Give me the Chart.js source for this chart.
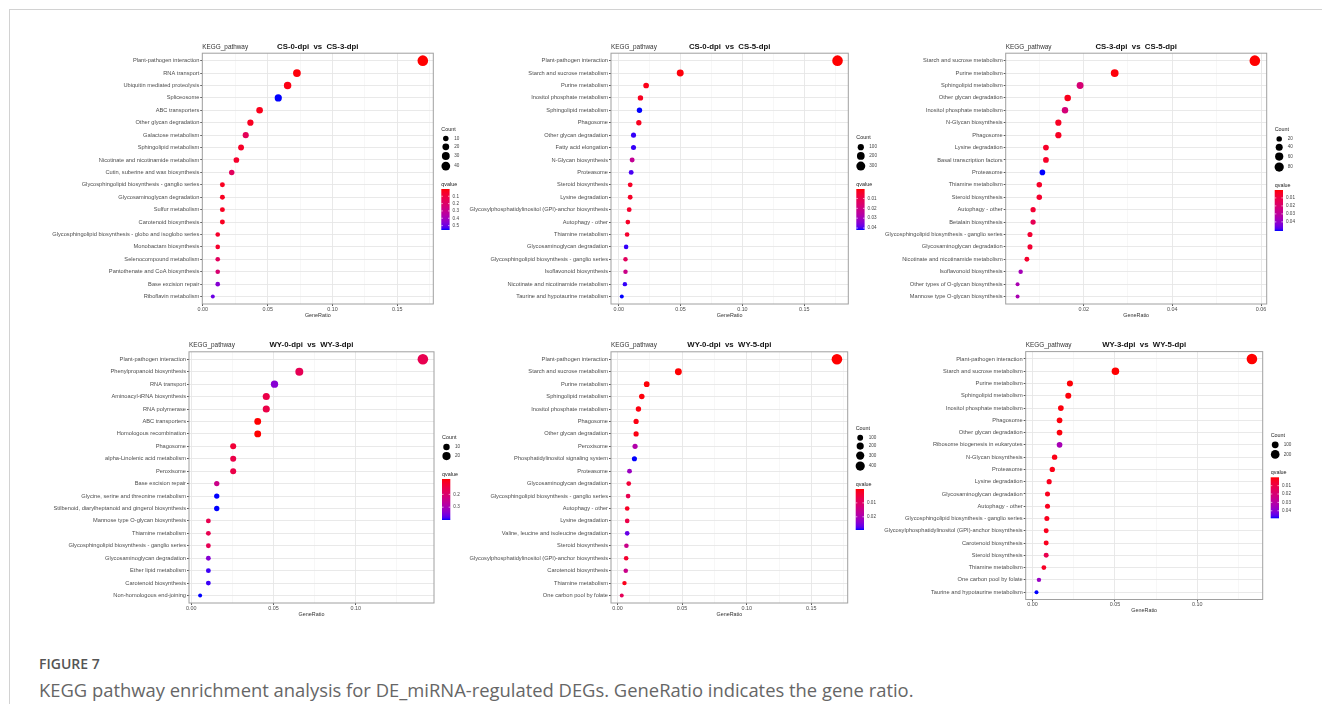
<!DOCTYPE html>
<html>
<head>
<meta charset="utf-8">
<script src="https://cdn.jsdelivr.net/npm/chart.js@4.4.0/dist/chart.umd.min.js"></script>
<style>
  body { margin: 0; background: #fff; }
  #page { position: relative; width: 1322px; height: 704px; overflow: hidden; background: #fff; }
  #frame { position: absolute; left: 9px; top: 9px; right: 0; bottom: 0; border-top: 1px solid #d2d2d2; border-left: 1px solid #d2d2d2; }
  canvas { position: absolute; }
  .fig-label { position: absolute; left: 39px; top: 654px; line-height: 20px; font: 600 14px "Open Sans", sans-serif; color: #555; }
  .fig-caption { position: absolute; left: 39px; top: 677px; line-height: 24px; font: 400 18.4px "Open Sans", sans-serif; color: #666; white-space: nowrap; }
</style>
</head>
<body>
<div id="page">
  <div id="frame"></div>
  <div class="fig-label">FIGURE 7</div>
  <div class="fig-caption">KEGG pathway enrichment analysis for DE_miRNA-regulated DEGs. GeneRatio indicates the gene ratio.</div>
</div>
<script>
// CS-0-dpi vs CS-3-dpi
const pathwaysCS03 = ["Plant-pathogen interaction", "RNA transport", "Ubiquitin mediated proteolysis", "Spliceosome", "ABC transporters", "Other glycan degradation", "Galactose metabolism", "Sphingolipid metabolism", "Nicotinate and nicotinamide metabolism", "Cutin, suberine and wax biosynthesis", "Glycosphingolipid biosynthesis - ganglio series", "Glycosaminoglycan degradation", "Sulfur metabolism", "Carotenoid biosynthesis", "Glycosphingolipid biosynthesis - globo and isoglobo series", "Monobactam biosynthesis", "Selenocompound metabolism", "Pantothenate and CoA biosynthesis", "Base excision repair", "Riboflavin metabolism"];
const ratioCS03 = [0.1697, 0.0726, 0.0654, 0.0582, 0.0438, 0.0367, 0.0331, 0.0295, 0.0259, 0.0223, 0.0151, 0.0151, 0.0151, 0.0151, 0.0115, 0.0115, 0.0115, 0.0115, 0.0115, 0.0077];
const countCS03 = [47, 20, 18, 16, 12, 10, 9, 8, 7, 6, 4, 4, 4, 4, 3, 3, 3, 3, 3, 2];
const qvalueCS03 = [0.001, 0.01, 0.02, 0.56, 0.03, 0.04, 0.16, 0.05, 0.06, 0.17, 0.04, 0.04, 0.04, 0.04, 0.06, 0.06, 0.17, 0.22, 0.46, 0.5];

// CS-0-dpi vs CS-5-dpi
const pathwaysCS05 = ["Plant-pathogen interaction", "Starch and sucrose metabolism", "Purine metabolism", "Inositol phosphate metabolism", "Sphingolipid metabolism", "Phagosome", "Other glycan degradation", "Fatty acid elongation", "N-Glycan biosynthesis", "Proteasome", "Steroid biosynthesis", "Lysine degradation", "Glycosylphosphatidylinositol (GPI)-anchor biosynthesis", "Autophagy - other", "Thiamine metabolism", "Glycosaminoglycan degradation", "Glycosphingolipid biosynthesis - ganglio series", "Isoflavonoid biosynthesis", "Nicotinate and nicotinamide metabolism", "Taurine and hypotaurine metabolism"];
const ratioCS05 = [0.177, 0.0497, 0.0221, 0.0175, 0.0167, 0.0162, 0.0119, 0.0119, 0.0108, 0.0100, 0.0092, 0.0092, 0.0084, 0.0073, 0.0067, 0.0059, 0.0054, 0.0054, 0.0049, 0.0024];
const countCS05 = [331, 93, 41, 33, 31, 30, 22, 22, 20, 19, 17, 17, 16, 14, 13, 11, 10, 10, 9, 5];
const qvalueCS05 = [0.0003, 0.001, 0.002, 0.003, 0.042, 0.003, 0.041, 0.041, 0.023, 0.04, 0.004, 0.004, 0.005, 0.004, 0.005, 0.041, 0.013, 0.021, 0.041, 0.042];

// CS-3-dpi vs CS-5-dpi
const pathwaysCS35 = ["Starch and sucrose metabolism", "Purine metabolism", "Sphingolipid metabolism", "Other glycan degradation", "Inositol phosphate metabolism", "N-Glycan biosynthesis", "Phagosome", "Lysine degradation", "Basal transcription factors", "Proteasome", "Thiamine metabolism", "Steroid biosynthesis", "Autophagy - other", "Betalain biosynthesis", "Glycosphingolipid biosynthesis - ganglio series", "Glycosaminoglycan degradation", "Nicotinate and nicotinamide metabolism", "Isoflavonoid biosynthesis", "Other types of O-glycan biosynthesis", "Mannose type O-glycan biosynthesis"];
const ratioCS35 = [0.0586, 0.0270, 0.0192, 0.0164, 0.0158, 0.0143, 0.0143, 0.0115, 0.0115, 0.0107, 0.0100, 0.0100, 0.0086, 0.0086, 0.0079, 0.0079, 0.0072, 0.0058, 0.0051, 0.0051];
const countCS35 = [82, 38, 27, 23, 22, 20, 20, 16, 16, 15, 14, 14, 12, 12, 11, 11, 10, 8, 7, 7];
const qvalueCS35 = [0.0001, 0.001, 0.021, 0.003, 0.022, 0.004, 0.004, 0.005, 0.005, 0.0514, 0.005, 0.006, 0.007, 0.014, 0.007, 0.007, 0.006, 0.036, 0.035, 0.035];

// WY-0-dpi vs WY-3-dpi
const pathwaysWY03 = ["Plant-pathogen interaction", "Phenylpropanoid biosynthesis", "RNA transport", "Aminoacyl-tRNA biosynthesis", "RNA polymerase", "ABC transporters", "Homologous recombination", "Phagosome", "alpha-Linolenic acid metabolism", "Peroxisome", "Base excision repair", "Glycine, serine and threonine metabolism", "Stilbenoid, diarylheptanoid and gingerol biosynthesis", "Mannose type O-glycan biosynthesis", "Thiamine metabolism", "Glycosphingolipid biosynthesis - ganglio series", "Glycosaminoglycan degradation", "Ether lipid metabolism", "Carotenoid biosynthesis", "Non-homologous end-joining"];
const ratioWY03 = [0.1408, 0.0657, 0.0506, 0.0456, 0.0456, 0.0404, 0.0404, 0.0255, 0.0255, 0.0255, 0.0155, 0.0155, 0.0155, 0.0104, 0.0104, 0.0104, 0.0104, 0.0104, 0.0104, 0.0054];
const countWY03 = [28, 13, 10, 9, 9, 8, 8, 5, 5, 5, 3, 3, 3, 2, 2, 2, 2, 2, 2, 1];
const qvalueWY03 = [0.16, 0.166, 0.342, 0.15, 0.15, 0.08, 0.08, 0.128, 0.15, 0.15, 0.24, 0.40, 0.40, 0.16, 0.16, 0.166, 0.342, 0.39, 0.39, 0.40];

// WY-0-dpi vs WY-5-dpi
const pathwaysWY05 = ["Plant-pathogen interaction", "Starch and sucrose metabolism", "Purine metabolism", "Sphingolipid metabolism", "Inositol phosphate metabolism", "Phagosome", "Other glycan degradation", "Peroxisome", "Phosphatidylinositol signaling system", "Proteasome", "Glycosaminoglycan degradation", "Glycosphingolipid biosynthesis - ganglio series", "Autophagy - other", "Lysine degradation", "Valine, leucine and isoleucine degradation", "Steroid biosynthesis", "Glycosylphosphatidylinositol (GPI)-anchor biosynthesis", "Carotenoid biosynthesis", "Thiamine metabolism", "One carbon pool by folate"];
const ratioWY05 = [0.1698, 0.0471, 0.0226, 0.0188, 0.0162, 0.0144, 0.0144, 0.0136, 0.0131, 0.0093, 0.0087, 0.0082, 0.0075, 0.0075, 0.0075, 0.0069, 0.0067, 0.0064, 0.0054, 0.0033];
const countWY05 = [415, 115, 55, 46, 40, 35, 35, 33, 32, 23, 21, 20, 18, 18, 18, 17, 16, 16, 13, 8];
const qvalueWY05 = [0.00001, 0.0001, 0.0003, 0.0005, 0.0008, 0.001, 0.001, 0.019, 0.0295, 0.022, 0.0045, 0.0074, 0.0024, 0.0065, 0.0266, 0.0148, 0.0035, 0.0148, 0.0015, 0.0083];

// WY-3-dpi vs WY-5-dpi
const pathwaysWY35 = ["Plant-pathogen interaction", "Starch and sucrose metabolism", "Purine metabolism", "Sphingolipid metabolism", "Inositol phosphate metabolism", "Phagosome", "Other glycan degradation", "Ribosome biogenesis in eukaryotes", "N-Glycan biosynthesis", "Proteasome", "Lysine degradation", "Glycosaminoglycan degradation", "Autophagy - other", "Glycosphingolipid biosynthesis - ganglio series", "Glycosylphosphatidylinositol (GPI)-anchor biosynthesis", "Carotenoid biosynthesis", "Steroid biosynthesis", "Thiamine metabolism", "One carbon pool by folate", "Taurine and hypotaurine metabolism"];
const ratioWY35 = [0.1331, 0.0503, 0.0227, 0.0217, 0.0172, 0.0164, 0.0164, 0.0164, 0.0134, 0.0120, 0.0101, 0.0091, 0.0091, 0.0087, 0.0083, 0.0083, 0.0083, 0.0069, 0.0039, 0.0024];
const countWY35 = [240, 90, 41, 39, 31, 30, 30, 30, 24, 22, 18, 16, 16, 16, 15, 15, 15, 12, 7, 4];
const qvalueWY35 = [0.00001, 0.0001, 0.0005, 0.0008, 0.001, 0.001, 0.001, 0.034, 0.002, 0.002, 0.003, 0.003, 0.003, 0.003, 0.003, 0.003, 0.012, 0.004, 0.037, 0.049];

// axis ticks and legend breaks
const xTicksCS03 = [0, 0.05, 0.1, 0.15];
const xTicksCS05 = [0, 0.05, 0.1, 0.15];
const xTicksCS35 = [0.02, 0.04, 0.06];
const xTicksWY03 = [0, 0.05, 0.1];
const xTicksWY05 = [0, 0.05, 0.1, 0.15];
const xTicksWY35 = [0, 0.05, 0.1];
const countBreaksCS03 = [10, 20, 30, 40];
const countBreaksCS05 = [100, 200, 300];
const countBreaksCS35 = [20, 40, 60, 80];
const countBreaksWY03 = [10, 20];
const countBreaksWY05 = [100, 200, 300, 400];
const countBreaksWY35 = [100, 200];
const qBreaksCS03 = [0.1, 0.2, 0.3, 0.4, 0.5];
const qBreaksCS05 = [0.01, 0.02, 0.03, 0.04];
const qBreaksCS35 = [0.01, 0.02, 0.03, 0.04];
const qBreaksWY03 = [0.2, 0.3];
const qBreaksWY05 = [0.01, 0.02];
const qBreaksWY35 = [0.01, 0.02, 0.03, 0.04];

const FONT = "'Liberation Sans', Arial, sans-serif";

// plot boxes (left, top, right, bottom) and colour bar top, in page pixels
const panels = [
  { box: [202.3, 53.2, 433.3, 304], barTop: 189, title: "CS-0-dpi  vs  CS-3-dpi", pathways: pathwaysCS03, ratio: ratioCS03, count: countCS03, qvalue: qvalueCS03, xTicks: xTicksCS03, countBreaks: countBreaksCS03, qBreaks: qBreaksCS03 },
  { box: [611, 53.2, 848.3, 304], barTop: 189, title: "CS-0-dpi  vs  CS-5-dpi", pathways: pathwaysCS05, ratio: ratioCS05, count: countCS05, qvalue: qvalueCS05, xTicks: xTicksCS05, countBreaks: countBreaksCS05, qBreaks: qBreaksCS05 },
  { box: [1005.7, 53.2, 1266.7, 304], barTop: 190, title: "CS-3-dpi  vs  CS-5-dpi", pathways: pathwaysCS35, ratio: ratioCS35, count: countCS35, qvalue: qvalueCS35, xTicks: xTicksCS35, countBreaks: countBreaksCS35, qBreaks: qBreaksCS35 },
  { box: [189, 351.8, 434, 603], barTop: 479, title: "WY-0-dpi  vs  WY-3-dpi", pathways: pathwaysWY03, ratio: ratioWY03, count: countWY03, qvalue: qvalueWY03, xTicks: xTicksWY03, countBreaks: countBreaksWY03, qBreaks: qBreaksWY03 },
  { box: [611, 351.8, 847.7, 603], barTop: 489, title: "WY-0-dpi  vs  WY-5-dpi", pathways: pathwaysWY05, ratio: ratioWY05, count: countWY05, qvalue: qvalueWY05, xTicks: xTicksWY05, countBreaks: countBreaksWY05, qBreaks: qBreaksWY05 },
  { box: [1025.7, 351.6, 1262.7, 599.5], barTop: 477.3, title: "WY-3-dpi  vs  WY-5-dpi", pathways: pathwaysWY35, ratio: ratioWY35, count: countWY35, qvalue: qvalueWY35, xTicks: xTicksWY35, countBreaks: countBreaksWY35, qBreaks: qBreaksWY35 },
];

// red -> blue gradient interpolated in Lab, like ggplot's scale_colour_gradient
function rgbToLab([r, g, b]) {
  const lin = (c) => { c /= 255; return c <= 0.04045 ? c / 12.92 : Math.pow((c + 0.055) / 1.055, 2.4); };
  const R = lin(r), G = lin(g), B = lin(b);
  const X = (0.4124 * R + 0.3576 * G + 0.1805 * B) / 0.95047;
  const Y = 0.2126 * R + 0.7152 * G + 0.0722 * B;
  const Z = (0.0193 * R + 0.1192 * G + 0.9505 * B) / 1.08883;
  const f = (t) => (t > 0.008856 ? Math.cbrt(t) : 7.787 * t + 16 / 116);
  return [116 * f(Y) - 16, 500 * (f(X) - f(Y)), 200 * (f(Y) - f(Z))];
}

function labToRgb([L, A, Bv]) {
  const fy = (L + 16) / 116, fx = fy + A / 500, fz = fy - Bv / 200;
  const inv = (t) => (t * t * t > 0.008856 ? t * t * t : (t - 16 / 116) / 7.787);
  const X = 0.95047 * inv(fx), Y = inv(fy), Z = 1.08883 * inv(fz);
  const gam = (c) => {
    c = Math.max(0, c);
    c = c <= 0.0031308 ? 12.92 * c : 1.055 * Math.pow(c, 1 / 2.4) - 0.055;
    return Math.round(Math.min(1, c) * 255);
  };
  return [gam(3.2406 * X - 1.5372 * Y - 0.4986 * Z), gam(-0.9689 * X + 1.8758 * Y + 0.0415 * Z), gam(0.0557 * X - 0.204 * Y + 1.057 * Z)];
}

const LAB_LOW = rgbToLab([255, 0, 0]);
const LAB_HIGH = rgbToLab([0, 0, 255]);

function gradientColor(t) {
  t = Math.min(1, Math.max(0, t));
  const lab = LAB_LOW.map((v, i) => v + (LAB_HIGH[i] - v) * t);
  const [r, g, b] = labToRgb(lab);
  return `rgb(${r},${g},${b})`;
}

function makeRadius(counts) {
  const cmin = Math.min(...counts), cmax = Math.max(...counts);
  return (c) => 2 + 3.3 * Math.pow(Math.min(1, Math.max(0, (c - cmin) / (cmax - cmin))), 0.62);
}

function drawLegend(ctx, a, o) {
  const x0 = a.right + 8;
  const radii = o.countBreaks.map((c) => o.radius(c) * 0.88);
  const by = a.top + o.barOffset;
  const barH = 41, bw = 8.3;
  const qTitle = by - 4.4;

  // stack the size keys upward from the qvalue title
  const dotY = [];
  let y = qTitle - 18.5;
  for (let i = radii.length - 1; i >= 0; i--) {
    dotY[i] = y;
    if (i > 0) y -= Math.max(8.3, radii[i] + radii[i - 1] + 1.8);
  }
  const countTitle = dotY[0] - 9.4;

  ctx.textBaseline = "middle";
  ctx.textAlign = "left";
  ctx.fillStyle = "#222";
  ctx.font = `5.4px ${FONT}`;
  ctx.fillText("Count", x0, countTitle);
  ctx.fillText("qvalue", x0, qTitle);

  ctx.font = `4.6px ${FONT}`;
  o.countBreaks.forEach((c, i) => {
    ctx.fillStyle = "#000";
    ctx.beginPath();
    ctx.arc(a.right + 12.5, dotY[i], radii[i], 0, Math.PI * 2);
    ctx.fill();
    ctx.fillStyle = "#444";
    ctx.fillText(String(c), a.right + 21, dotY[i]);
  });

  // colour bar, low qvalue (red) on top
  const grad = ctx.createLinearGradient(0, by, 0, by + barH);
  for (let i = 0; i <= 20; i++) grad.addColorStop(i / 20, gradientColor(i / 20));
  ctx.fillStyle = grad;
  ctx.fillRect(x0, by, bw, barH);
  ctx.strokeStyle = "#fff";
  ctx.lineWidth = 0.6;
  o.qBreaks.forEach((q) => {
    const ty = by + (barH * (q - o.qmin)) / (o.qmax - o.qmin);
    ctx.beginPath();
    ctx.moveTo(x0, ty);
    ctx.lineTo(x0 + 1.6, ty);
    ctx.moveTo(x0 + bw - 1.6, ty);
    ctx.lineTo(x0 + bw, ty);
    ctx.stroke();
    ctx.fillStyle = "#444";
    ctx.fillText(String(q), x0 + bw + 3, ty);
  });
}

const decorPlugin = {
  id: "decor",
  beforeDatasetsDraw(chart) {
    const { ctx, chartArea: a } = chart;
    ctx.save();
    ctx.strokeStyle = "#a0a0a0";
    ctx.lineWidth = 1;
    ctx.strokeRect(a.left, a.top, a.right - a.left, a.bottom - a.top);
    ctx.restore();
  },
  afterDraw(chart, args, o) {
    const { ctx, chartArea: a } = chart;
    ctx.save();
    ctx.textBaseline = "middle";
    ctx.fillStyle = "#111";
    ctx.font = `bold 7.8px ${FONT}`;
    ctx.textAlign = "center";
    ctx.fillText(o.title, (a.left + a.right) / 2, a.top - 6.5);
    ctx.font = `6.4px ${FONT}`;
    ctx.fillStyle = "#333";
    ctx.textAlign = "left";
    ctx.fillText("KEGG_pathway", a.left, a.top - 6.2);
    ctx.textAlign = "center";
    ctx.font = `5.4px ${FONT}`;
    ctx.fillText("GeneRatio", (a.left + a.right) / 2, a.bottom + 11.5);
    drawLegend(ctx, a, o);
    ctx.restore();
  },
};

function drawPanel(p) {
  const [l, t, r, b] = p.box;
  const left = Math.floor(l) - 205;
  const top = Math.floor(t) - 25;
  const width = Math.ceil(r) - left + 56;
  const height = Math.ceil(b) - top + 20;

  const canvas = document.createElement("canvas");
  canvas.width = width;
  canvas.height = height;
  canvas.style.left = left + "px";
  canvas.style.top = top + "px";
  document.getElementById("page").appendChild(canvas);

  const xmin0 = Math.min(...p.ratio), xmax0 = Math.max(...p.ratio);
  const pad = (xmax0 - xmin0) * 0.05;
  const qmin = Math.min(...p.qvalue), qmax = Math.max(...p.qvalue);
  const radius = makeRadius(p.count);
  const minor = (p.xTicks[1] - p.xTicks[0]) / 2;
  const isMajor = (v) => p.xTicks.some((m) => Math.abs(m - v) < 1e-9);

  new Chart(canvas, {
    type: "scatter",
    data: {
      datasets: [
        {
          data: p.ratio.map((x, i) => ({ x, y: i })),
          pointRadius: p.count.map(radius),
          pointBackgroundColor: p.qvalue.map((q) => gradientColor((q - qmin) / (qmax - qmin))),
          pointBorderWidth: 0,
          pointHoverRadius: p.count.map(radius),
        },
      ],
    },
    options: {
      responsive: false,
      animation: false,
      events: [],
      layout: { autoPadding: false, padding: { left: 0, top: t - top, right: left + width - r, bottom: 0 } },
      plugins: {
        legend: { display: false },
        tooltip: { enabled: false },
        decor: { title: p.title, countBreaks: p.countBreaks, qBreaks: p.qBreaks, radius, qmin, qmax, barOffset: p.barTop - t },
      },
      scales: {
        x: {
          type: "linear",
          min: xmin0 - pad,
          max: xmax0 + pad,
          afterBuildTicks: (scale) => {
            const ticks = [];
            const k0 = Math.ceil(scale.min / minor - 1e-9), k1 = Math.floor(scale.max / minor + 1e-9);
            for (let k = k0; k <= k1; k++) ticks.push({ value: k * minor, major: isMajor(k * minor) });
            scale.ticks = ticks;
          },
          afterFit: (scale) => { scale.height = top + height - b; },
          border: { display: false },
          grid: {
            color: (c) => (c.tick && c.tick.major ? "#e6e6e6" : "#f2f2f2"),
            lineWidth: (c) => (c.tick && c.tick.major ? 0.9 : 0.6),
            tickColor: (c) => (c.tick && c.tick.major ? "#444" : "rgba(0,0,0,0)"),
            tickLength: 2,
          },
          ticks: {
            autoSkip: false,
            maxRotation: 0,
            padding: 0,
            color: "#4d4d4d",
            font: { family: FONT, size: 5.4 },
            callback: (v) => (isMajor(v) ? v.toFixed(2) : ""),
          },
        },
        y: {
          type: "linear",
          reverse: true,
          min: -0.6,
          max: p.pathways.length - 1 + 0.6,
          afterBuildTicks: (scale) => { scale.ticks = p.pathways.map((_, i) => ({ value: i })); },
          afterFit: (scale) => { scale.width = l - left; },
          border: { display: false },
          grid: { color: "#e6e6e6", lineWidth: 0.9, tickColor: "#444", tickLength: 2 },
          ticks: {
            autoSkip: false,
            padding: 1,
            color: "#4d4d4d",
            font: { family: FONT, size: 5.7 },
            callback: (v) => p.pathways[v],
          },
        },
      },
    },
    plugins: [decorPlugin],
  });
}

panels.forEach(drawPanel);
</script>
</body>
</html>
